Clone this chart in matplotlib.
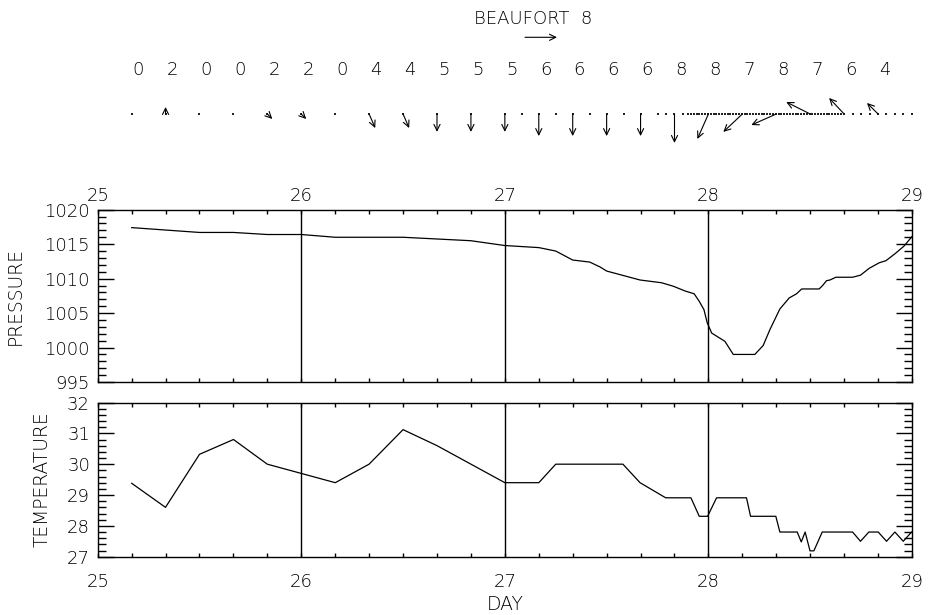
import numpy as np
import matplotlib
matplotlib.use('Agg')
import matplotlib.pyplot as plt
from matplotlib.ticker import MultipleLocator

plt.rcParams['font.family'] = ['DejaVu Sans']
plt.rcParams['font.weight'] = 'light'

# ---------------- data ----------------
pres_day = [25.167, 25.5, 25.667, 25.833, 26.0, 26.167, 26.5, 26.833, 27.0, 27.167,
            27.25, 27.333, 27.417, 27.467, 27.5, 27.664, 27.77, 27.827, 27.886, 27.93,
            27.955, 27.978, 27.994, 28.016, 28.081, 28.122, 28.228, 28.269, 28.302, 28.351,
            28.397, 28.433, 28.458, 28.544, 28.561, 28.58, 28.597, 28.626, 28.708, 28.747,
            28.79, 28.839, 28.872, 28.916, 28.96, 29.0]
pres_hpa = [1017.4, 1016.7, 1016.7, 1016.4, 1016.4, 1016.0, 1016.0, 1015.5, 1014.8, 1014.5,
            1014.0, 1012.7, 1012.4, 1011.7, 1011.1, 1009.8, 1009.4, 1008.9, 1008.2, 1007.8,
            1006.7, 1005.5, 1003.6, 1002.1, 1000.9, 999.0, 999.0, 1000.3, 1002.6, 1005.6,
            1007.2, 1007.8, 1008.5, 1008.5, 1009.0, 1009.7, 1009.8, 1010.2, 1010.2, 1010.5,
            1011.5, 1012.3, 1012.6, 1013.6, 1014.7, 1016.1]

temp_day = [25.167, 25.333, 25.5, 25.667, 25.833, 26.0, 26.167, 26.333, 26.5, 26.667,
            27.0, 27.167, 27.25, 27.58, 27.664, 27.79, 27.914, 27.955, 27.996, 28.04,
            28.187, 28.207, 28.331, 28.351, 28.436, 28.456, 28.475, 28.499, 28.518, 28.559,
            28.708, 28.747, 28.788, 28.834, 28.875, 28.916, 28.957, 28.998]
temp_c = [29.38, 28.6, 30.32, 30.8, 30.0, 29.7, 29.4, 30.0, 31.12, 30.6,
          29.4, 29.4, 30.0, 30.0, 29.4, 28.91, 28.91, 28.31, 28.31, 28.91,
          28.91, 28.31, 28.31, 27.8, 27.8, 27.48, 27.8, 27.19, 27.19, 27.8,
          27.8, 27.5, 27.8, 27.8, 27.5, 27.8, 27.5, 27.8]

# wind: 4-hourly samples with Beaufort force and (u, v) components (m/s)
wind_day = np.arange(25 + 4 / 24, 28.9, 4 / 24)
beaufort = [0, 2, 0, 0, 2, 2, 0, 4, 4, 5, 5, 5, 6, 6, 6, 6, 8, 8, 7, 8, 7, 6, 4]
wind_u = [0, 0, 0, 0, 3.1, 3.1, 0, 3.8, 3.8, 0, 0, 0, 0, 0, 0, 0, 0,
          -6.9, -11.9, -15.6, -15.0, -9.4, -6.9]
wind_v = [0, 4.4, 0, 0, -3.1, -3.1, 0, -8.8, -8.8, -11.2, -11.2, -11.2, -13.8, -13.8,
          -13.8, -13.8, -18.1, -15.6, -11.2, -6.9, 7.5, 10.0, 6.9]
legend_speed = 20.0
legend_label = "BEAUFORT  8"

# observation times of the wind record (base dots)
obs_day = np.concatenate([
    np.arange(25 + 4 / 24, 27.01, 4 / 24),
    np.arange(27 + 2 / 24, 27.70, 2 / 24),
    np.arange(27.75, 27.90, 1 / 24),
    np.arange(27.90, 28.67, 1 / 72),
    np.arange(28.708, 29.01, 1 / 24),
])

day_lines = [26, 27, 28]

# ---------------- layout ----------------
W, H = 929, 615
fig = plt.figure(figsize=(W / 100, H / 100), dpi=100)
L = 97.7 / W
AW = (912.0 - 97.7) / W

ax_p = fig.add_axes([L, 1 - 382.0 / H, AW, (382.0 - 209.7) / H])
ax_t = fig.add_axes([L, 1 - 556.7 / H, AW, (556.7 - 402.5) / H])
ax_w = fig.add_axes([L, 1 - 138.0 / H, AW, 48.0 / H])

FS = 13
LFS = 13.5


def style(ax, ylo, yhi, ymaj, ymin, top_labels):
    ax.set_xlim(25, 29)
    ax.set_ylim(ylo, yhi)
    ax.xaxis.set_major_locator(MultipleLocator(1))
    ax.xaxis.set_minor_locator(MultipleLocator(1 / 6))
    ax.yaxis.set_major_locator(MultipleLocator(ymaj))
    ax.yaxis.set_minor_locator(MultipleLocator(ymin))
    ax.tick_params(axis='both', which='both', direction='in', top=True, right=True,
                   labelsize=FS, width=1.0, colors='k')
    ax.tick_params(axis='x', which='both', length=2.6)
    ax.tick_params(axis='y', which='major', length=11.5, pad=5.5)
    ax.tick_params(axis='y', which='minor', length=5.8)
    if top_labels:
        ax.tick_params(axis='x', labeltop=True, labelbottom=False, pad=3.5)
    else:
        ax.tick_params(axis='x', labeltop=False, labelbottom=True, pad=11.5)
    for s in ax.spines.values():
        s.set_linewidth(1.0)
    for d in day_lines:
        ax.axvline(d, color='k', lw=1.0)


style(ax_p, 995, 1020, 5, 1, True)
ax_p.plot(pres_day, pres_hpa, color='k', lw=0.9)
ax_p.text((15 - 97.7) / (912 - 97.7), 0.5, 'PRESSURE', rotation=90, ha='center',
          va='center', transform=ax_p.transAxes, fontsize=LFS)

style(ax_t, 27, 32, 1, 0.2, False)
ax_t.plot(temp_day, temp_c, color='k', lw=0.9)
ax_t.text((41.7 - 97.7) / (912 - 97.7), 0.5, 'TEMPERATURE', rotation=90, ha='center',
          va='center', transform=ax_t.transAxes, fontsize=LFS)
fig.text(505 / W, 1 - 604 / H, 'DAY', ha='center', va='center', fontsize=LFS)

# ---------------- wind panel ----------------
SCALE = 1.6  # pixels per m/s
ax_w.set_xlim(25, 29)
ax_w.set_ylim(-1, 1)
ax_w.axis('off')
ax_w.plot(obs_day, np.zeros(len(obs_day)), 's', ms=2.1, mew=0, color='#222222')
astyle = '<-,head_length=0.45,head_width=0.22'
for t, b, u, v in zip(wind_day, beaufort, wind_u, wind_v):
    ax_w.annotate(str(b), xy=(t, 0), xytext=(1, 44), textcoords='offset pixels',
                  ha='left', va='center', fontsize=FS)
    if u == 0 and v == 0:
        continue
    ax_w.annotate('', xy=(t, 0), xytext=(u * SCALE, v * SCALE), textcoords='offset pixels',
                  arrowprops=dict(arrowstyle=astyle, lw=0.8, color='k',
                                  shrinkA=0, shrinkB=0))

fig.text(533.5 / W, 1 - 19.5 / H, legend_label, ha='center', va='center', fontsize=FS)
ax_w.annotate('', xy=(525 / W, 1 - 37.3 / H), xycoords='figure fraction',
              xytext=(legend_speed * SCALE, 0), textcoords='offset pixels',
              arrowprops=dict(arrowstyle=astyle, lw=0.8, color='k', shrinkA=0, shrinkB=0))

fig.savefig('out.png', dpi=100)
